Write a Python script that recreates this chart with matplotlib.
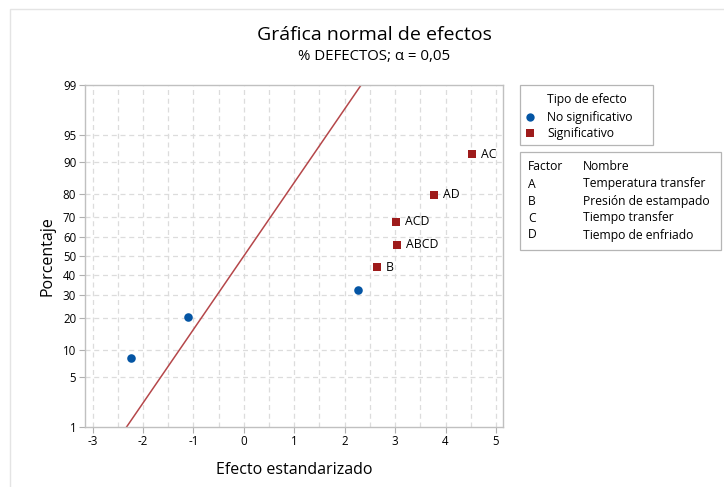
from statistics import NormalDist
import matplotlib
matplotlib.use("Agg")
import matplotlib.pyplot as plt
from matplotlib.patches import Rectangle

plt.rcParams['font.family'] = ['Open Sans', 'DejaVu Sans']

# efectos estandarizados y porcentajes
no_sig_x = [-2.23, -1.11, 2.27]
no_sig_p = [8.3, 20.2, 32.1]
sig_names = ['B', 'ABCD', 'ACD', 'AD', 'AC']
sig_x = [2.64, 3.03, 3.02, 3.77, 4.52]
sig_p = [44.0, 56.0, 67.9, 79.8, 91.7]

y_ticks = [1, 5, 10, 20, 30, 40, 50, 60, 70, 80, 90, 95, 99]
x_ticks = [-3, -2, -1, 0, 1, 2, 3, 4, 5]

factores = ['A', 'B', 'C', 'D']
nombres = ['Temperatura transfer', 'Presión de estampado', 'Tiempo transfer', 'Tiempo de enfriado']

nd = NormalDist()
def z(p):
    return nd.inv_cdf(p / 100.0)

def fy(py):
    # pixel vertical -> coordenada de figura
    return 1 - py / 487

blue = '#0455a4'
red = '#9e1b1b'
line_col = '#b5474a'
box_col = '#b5b5b5'

fig = plt.figure(figsize=(7.24, 4.87), dpi=100)
fig.patches.append(Rectangle((10 / 724, -0.1), 1.2, fy(9) + 0.1, transform=fig.transFigure,
                             fill=False, edgecolor='#e4e4e4', lw=1.0))
ax = fig.add_axes([84.5 / 724, fy(427), (503 - 84.5) / 724, (427 - 85) / 487])

# grid: vertical cada 0.5, horizontal en cada tick
for gx in [v / 2 for v in range(-6, 11)]:
    ax.axvline(gx, color='#dcdcdc', lw=0.9, ls=(0, (4, 3)), zorder=0)
for p in y_ticks[1:-1]:
    ax.axhline(z(p), color='#dcdcdc', lw=0.9, ls=(0, (4, 3)), zorder=0)

# linea de referencia
lz = [z(1), z(99)]
ax.plot(lz, lz, color=line_col, lw=1.1, zorder=2)

ax.scatter(no_sig_x, [z(p) for p in no_sig_p], s=38, marker='o', color=blue, zorder=3, lw=0)
ax.scatter(sig_x, [z(p) for p in sig_p], s=38, marker='s', color=red, zorder=3, lw=0)
for n, x, p in zip(sig_names, sig_x, sig_p):
    ax.annotate(n, (x, z(p)), xytext=(6.5, 0), textcoords='offset points',
                va='center', ha='left', fontsize=8.8)

ax.set_xlim(-3.16, 5.14)
ax.set_ylim(z(1), z(99))
ax.set_xticks(x_ticks)
ax.set_xticklabels([str(v) for v in x_ticks])
ax.set_yticks([z(p) for p in y_ticks])
ax.set_yticklabels([str(p) for p in y_ticks])
ax.tick_params(labelsize=8.3, length=4, color='#b0b0b0', width=0.8, pad=2)
for s in ax.spines.values():
    s.set_color('#c0c0c0')
    s.set_linewidth(1.0)

ax.set_xlabel('Efecto estandarizado', fontsize=11.5, labelpad=10)
ax.set_ylabel('Porcentaje', fontsize=11.5, labelpad=5)

fig.text(374 / 724, fy(35), 'Gráfica normal de efectos', ha='center', va='center', fontsize=14)
fig.text(374 / 724, fy(57), '% DEFECTOS; α = 0,05', ha='center', va='center', fontsize=10.8)

# leyenda tipo de efecto (dibujada a mano)
fig.patches.append(Rectangle((520 / 724, fy(145)), 133 / 724, 60 / 487, transform=fig.transFigure,
                             fill=False, edgecolor=box_col, lw=0.9))
fig.text(547 / 724, fy(100), 'Tipo de efecto', fontsize=8.7, va='center')
fig.lines.append(plt.Line2D([530 / 724], [fy(117)], marker='o', color=blue, markersize=6, mew=0,
                            transform=fig.transFigure))
fig.lines.append(plt.Line2D([530 / 724], [fy(133)], marker='s', color=red, markersize=6, mew=0,
                            transform=fig.transFigure))
fig.text(547 / 724, fy(117), 'No significativo', fontsize=8.7, va='center')
fig.text(547 / 724, fy(133), 'Significativo', fontsize=8.7, va='center')

# tabla de factores
fig.patches.append(Rectangle((520 / 724, fy(250)), 201 / 724, 98 / 487, transform=fig.transFigure,
                             fill=False, edgecolor=box_col, lw=0.9))
fig.text(528 / 724, fy(167), 'Factor', fontsize=8.7, va='center')
fig.text(583 / 724, fy(167), 'Nombre', fontsize=8.7, va='center')
for i, (f, n) in enumerate(zip(factores, nombres)):
    yy = fy(184 + i * 17)
    fig.text(528 / 724, yy, f, fontsize=8.7, va='center')
    fig.text(583 / 724, yy, n, fontsize=8.7, va='center')

fig.savefig('out.png', dpi=100)
